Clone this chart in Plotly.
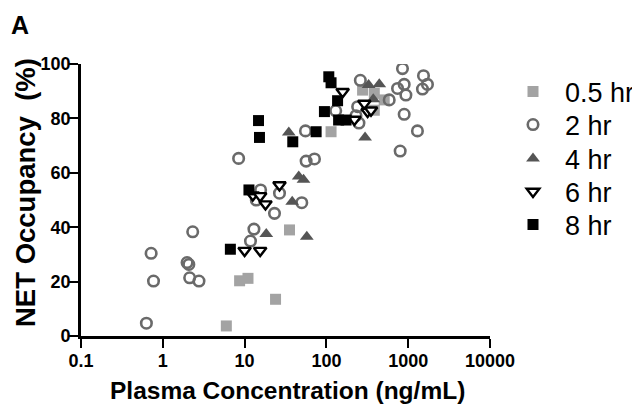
import plotly.graph_objects as go

# ---- data ----
x_05 = [5.98, 8.69, 11.0, 23.9, 35.4, 114, 277, 385, 509, 385]
y_05 = [3.7, 20.3, 21.2, 13.5, 39.0, 75.1, 90.4, 89.2, 86.8, 83.0]

x_2 = [0.63, 0.72, 0.77, 2.32, 1.98, 2.08, 2.13, 2.77, 8.45, 15.7, 13.9, 26.7,
       23.2, 50, 13.0, 11.8, 55.5, 56.5, 71.5, 130, 260, 241, 250, 230, 586,
       798, 851, 893, 741, 937, 893, 1538, 1719, 1494, 1297]
y_2 = [4.7, 30.4, 20.2, 38.3, 27.0, 26.3, 21.4, 20.2, 65.3, 53.7, 50.0, 52.5,
       45.1, 49.0, 39.3, 34.9, 75.4, 64.3, 65.1, 82.8, 94.0, 84.3, 78.3, 81.0, 86.8,
       68.0, 98.3, 92.5, 91.0, 88.6, 81.5, 95.7, 92.5, 90.8, 75.4]

x_4 = [18.4, 34.7, 38.2, 45.9, 52.5, 57.6, 297, 328, 374, 443]
y_4 = [37.5, 74.8, 49.4, 58.6, 57.4, 36.5, 73.0, 92.3, 87.0, 92.6]

x_6 = [10.0, 15.5, 12.6, 15.5, 18.0, 26.7, 158, 220, 291, 319, 351]
y_6 = [31.4, 31.4, 51.8, 51.5, 48.5, 55.5, 89.8, 79.6, 85.5, 82.5, 83.0]

x_8 = [6.7, 11.3, 14.8, 15.2, 38.8, 74.9, 94.6, 107, 114, 137, 141, 174]
y_8 = [31.9, 53.7, 79.2, 73.0, 71.4, 75.1, 82.5, 95.3, 93.1, 86.5, 79.4, 79.4]

series_names = ["0.5 hr", "2 hr", "4 hr", "6 hr", "8 hr"]
x_tickvals = [0.1, 1, 10, 100, 1000, 10000]
x_ticktext = ["0.1", "1", "10", "100", "1000", "10000"]
y_tickvals = [0, 20, 40, 60, 80, 100]

FONT = "Arial, Liberation Sans, sans-serif"

# the page body adds an 8px margin, so the figure is drawn 8px in from the window corner
OFF = 8
W, H = 640 - OFF, 407 - OFF
# plot area in window pixels: x 81..490, y 64..336
PL, PR, PT, PB = 81, 490, 64, 336
PW, PH = PR - PL, PB - PT


def px_x(p):
    return (p - PL) / PW


def px_y(p):
    return (PB - p) / PH


legend_keys = ["legend", "legend2", "legend3", "legend4", "legend5"]
legend_rows_px = [92, 125, 159, 192, 225]

fig = go.Figure()
fig.add_trace(go.Scatter(x=x_05, y=y_05, mode="markers", name=series_names[0], legend=legend_keys[0],
                         marker=dict(symbol="square", size=11, color="#a3a3a3")))
fig.add_trace(go.Scatter(x=x_2, y=y_2, mode="markers", name=series_names[1], legend=legend_keys[1],
                         marker=dict(symbol="circle-open", size=10.5, color="#6a6a6a",
                                     line=dict(width=2.6, color="#6a6a6a"))))
fig.add_trace(go.Scatter(x=x_4, y=y_4, mode="markers", name=series_names[2], legend=legend_keys[2],
                         marker=dict(symbol="triangle-up", size=12, color="#555555")))
fig.add_trace(go.Scatter(x=x_6, y=y_6, mode="markers", name=series_names[3], legend=legend_keys[3],
                         marker=dict(symbol="triangle-down", size=11, color="white",
                                     line=dict(width=2.4, color="black"))))
fig.add_trace(go.Scatter(x=x_8, y=y_8, mode="markers", name=series_names[4], legend=legend_keys[4],
                         marker=dict(symbol="square", size=11, color="black")))

legend_common = dict(xanchor="left", yanchor="middle",
                     font=dict(size=27, family=FONT, color="black"),
                     itemwidth=54, bgcolor="rgba(0,0,0,0)", borderwidth=0)
legend_layout = {}
for key, row in zip(legend_keys, legend_rows_px):
    legend_layout[key] = dict(x=px_x(501), y=px_y(row), **legend_common)

fig.update_layout(
    width=W, height=H,
    margin=dict(l=PL - OFF, r=W - (PR - OFF), t=PT - OFF, b=H - (PB - OFF), autoexpand=False),
    paper_bgcolor="white", plot_bgcolor="white",
    font=dict(family=FONT, color="black"),
    showlegend=True,
    xaxis=dict(type="log", range=[-1, 4], tickvals=x_tickvals, ticktext=x_ticktext,
               showgrid=False, zeroline=False, showline=True, linecolor="black",
               linewidth=2.6, ticks="outside", ticklen=9, tickwidth=2.4,
               tickcolor="black", ticklabelstandoff=-2,
               tickfont=dict(size=18, family=FONT, color="black", weight="bold")),
    yaxis=dict(range=[0, 100], tickvals=y_tickvals,
               showgrid=False, zeroline=False, showline=True, linecolor="black",
               linewidth=2.6, ticks="outside", ticklen=9, tickwidth=2.4,
               tickcolor="black", ticklabelstandoff=-5,
               tickfont=dict(size=18, family=FONT, color="black", weight="bold")),
    annotations=[
        dict(text="<b>NET Occupancy \u00a0(%)</b>", xref="paper", yref="paper",
             x=px_x(25), y=px_y(193), xanchor="center", yanchor="middle",
             textangle=-90, showarrow=False, font=dict(size=27.5, family=FONT, color="black")),
        dict(text="<b>Plasma Concentration (ng/mL)</b>", xref="paper", yref="paper",
             x=px_x(287), y=px_y(390), xanchor="center", yanchor="middle",
             showarrow=False, font=dict(size=24.5, family=FONT, color="black")),
        dict(text="<b>A</b>", xref="paper", yref="paper",
             x=px_x(9), y=px_y(9), xanchor="left", yanchor="top",
             showarrow=False, font=dict(size=25, family=FONT, color="black")),
    ],
    **legend_layout,
)

fig.write_html("out.html")
